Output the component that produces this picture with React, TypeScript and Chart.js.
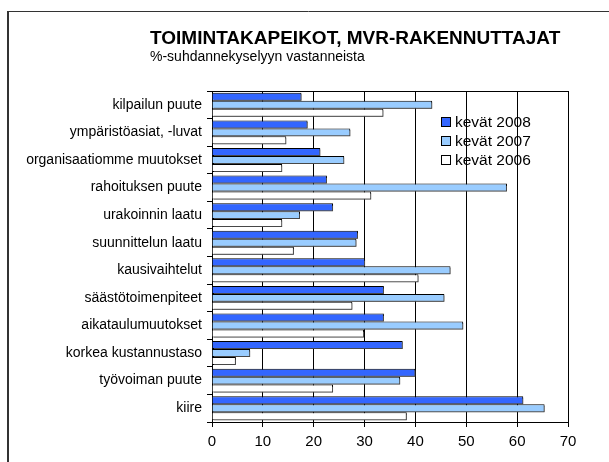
import React, { useEffect, useRef } from "react";
import { Chart, registerables } from "chart.js";

Chart.register(...registerables);

const categories = [
  "kilpailun puute",
  "ympäristöasiat, -luvat",
  "organisaatiomme muutokset",
  "rahoituksen puute",
  "urakoinnin laatu",
  "suunnittelun laatu",
  "kausivaihtelut",
  "säästötoimenpiteet",
  "aikataulumuutokset",
  "korkea kustannustaso",
  "työvoiman puute",
  "kiire",
];

const spring2008 = [17.6, 18.8, 21.3, 22.6, 23.8, 28.7, 30.1, 33.8, 33.8, 37.5, 40.0, 61.2];
const spring2007 = [43.3, 27.2, 26.0, 58.0, 17.3, 28.4, 46.9, 45.7, 49.4, 7.5, 37.0, 65.4];
const spring2006 = [33.7, 14.6, 13.8, 31.3, 13.8, 16.1, 40.6, 27.6, 29.9, 4.7, 23.8, 38.3];

const seriesNames = ["kevät 2008", "kevät 2007", "kevät 2006"];
const seriesColors = ["#3366FF", "#99CCFF", "#FFFFFF"];

const titleText = "TOIMINTAKAPEIKOT, MVR-RAKENNUTTAJAT";
const subtitleText = "%-suhdannekyselyyn vastanneista";

const FONT = "Arial, 'Liberation Sans', sans-serif";

export default function App() {
  const ref = useRef<HTMLCanvasElement | null>(null);

  useEffect(() => {
    if (!ref.current) return;

    const decor = {
      id: "decor",
      beforeDraw(chart: any) {
        const ctx = chart.ctx;
        ctx.save();
        ctx.fillStyle = "#FFFFFF";
        ctx.fillRect(0, 0, chart.width, chart.height);
        // frame
        ctx.strokeStyle = "#333333";
        ctx.lineWidth = 2;
        ctx.beginPath();
        ctx.moveTo(8, 462);
        ctx.lineTo(8, 11);
        ctx.stroke();
        ctx.lineWidth = 1;
        ctx.beginPath();
        ctx.moveTo(8, 11.5);
        ctx.lineTo(609, 11.5);
        ctx.stroke();
        // titles
        ctx.fillStyle = "#000000";
        ctx.textBaseline = "alphabetic";
        ctx.textAlign = "left";
        ctx.font = "bold 19px " + FONT;
        ctx.fillText(titleText, 150, 43.5);
        ctx.font = "14px " + FONT;
        ctx.fillText(subtitleText, 150, 61);
        ctx.restore();
      },
      beforeDatasetsDraw(chart: any) {
        const ctx = chart.ctx;
        ctx.save();
        ctx.shadowColor = "rgba(90,90,90,0.8)";
        ctx.shadowOffsetX = 1.5;
        ctx.shadowOffsetY = 1.5;
        ctx.shadowBlur = 0;
      },
      afterDatasetsDraw(chart: any) {
        const ctx = chart.ctx;
        ctx.restore();
        const a = chart.chartArea;
        ctx.save();
        ctx.strokeStyle = "#000000";
        ctx.lineWidth = 1;
        ctx.beginPath();
        ctx.moveTo(a.left, Math.round(a.top) + 0.5);
        ctx.lineTo(a.right, Math.round(a.top) + 0.5);
        ctx.stroke();
        // legend
        const lx = 441;
        const ys = [122, 141, 160];
        ctx.font = "15.5px " + FONT;
        ctx.textBaseline = "middle";
        ctx.textAlign = "left";
        for (let i = 0; i < seriesNames.length; i++) {
          ctx.fillStyle = seriesColors[i];
          ctx.fillRect(lx, ys[i] - 5, 10, 10);
          ctx.strokeStyle = "#000000";
          ctx.strokeRect(lx + 0.5, ys[i] - 4.5, 9, 9);
          ctx.fillStyle = "#000000";
          ctx.fillText(seriesNames[i], 455, ys[i] + 1);
        }
        ctx.restore();
      },
    };

    const chart = new Chart(ref.current, {
      type: "bar",
      data: {
        labels: categories,
        datasets: [
          { label: seriesNames[0], data: spring2008, backgroundColor: seriesColors[0], borderColor: "#000000", borderWidth: 1 },
          { label: seriesNames[1], data: spring2007, backgroundColor: seriesColors[1], borderColor: "#000000", borderWidth: 1 },
          { label: seriesNames[2], data: spring2006, backgroundColor: seriesColors[2], borderColor: "#000000", borderWidth: 1 },
        ],
      },
      plugins: [decor],
      options: {
        indexAxis: "y",
        responsive: false,
        animation: false,
        maintainAspectRatio: false,
        barPercentage: 1,
        categoryPercentage: 0.87,
        layout: { padding: { left: 0, top: 91, right: 41, bottom: 0 } },
        plugins: {
          legend: { display: false },
          title: { display: false },
          tooltip: { enabled: false },
        },
        scales: {
          x: {
            min: 0,
            max: 70,
            ticks: {
              stepSize: 10,
              color: "#000000",
              font: { family: FONT, size: 15 },
              padding: 6,
            },
            grid: { color: "#000000", drawOnChartArea: true, drawTicks: true, tickLength: 5, lineWidth: 1 },
            border: { display: true, color: "#000000" },
            afterFit: (s: any) => { s.height = 40; },
          },
          y: {
            ticks: {
              color: "#000000",
              font: { family: FONT, size: 14 },
              padding: 5,
              autoSkip: false,
            },
            grid: { color: "#000000", drawOnChartArea: false, drawTicks: true, tickLength: 5, offset: true },
            border: { display: true, color: "#000000" },
            afterFit: (s: any) => { s.width = 212; },
          },
        },
      } as any,
    });

    return () => chart.destroy();
  }, []);

  return (
    <div style={{ position: "fixed", left: 0, top: 0, width: 609, height: 462 }}>
      <canvas ref={ref} width={609} height={462} style={{ display: "block" }} />
    </div>
  );
}
